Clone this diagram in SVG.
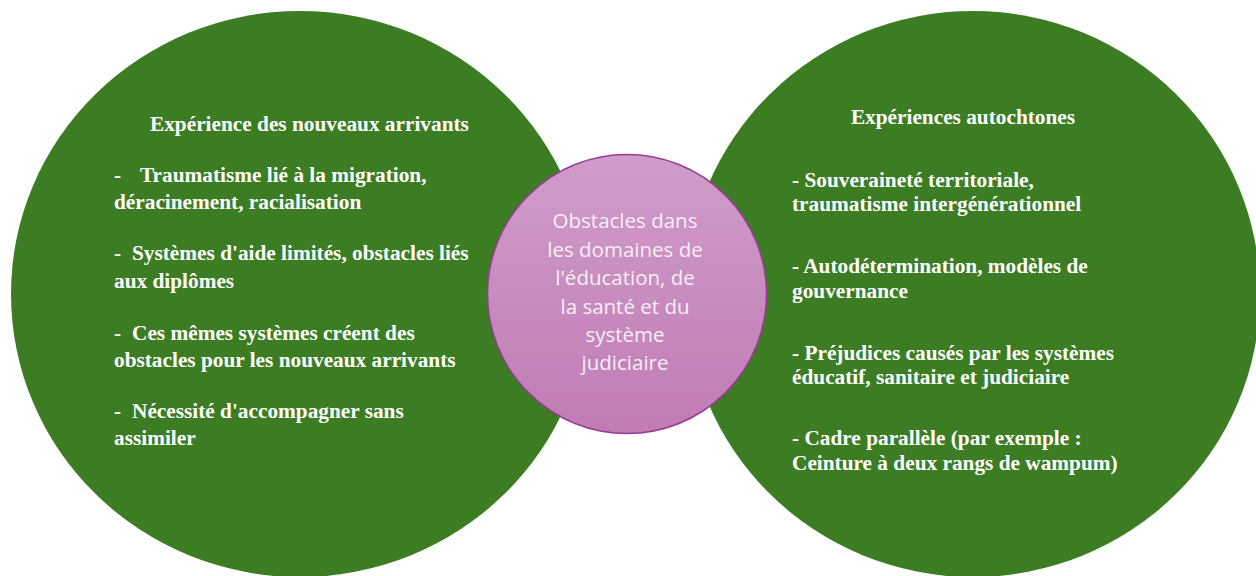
<svg xmlns="http://www.w3.org/2000/svg" width="1256" height="576" viewBox="0 0 1256 576">
<style>
.green{fill:#3c7d24}
.t{font-family:"Liberation Serif","Times New Roman",serif;font-weight:bold;font-size:21.3px;fill:#ffffff}
.c{font-family:"Open Sans","Noto Sans",sans-serif;font-size:20.5px;fill:#f8eef6;text-anchor:middle}
</style>
<defs>
<linearGradient id="pinkGrad" x1="0" y1="0" x2="0" y2="1">
<stop offset="0" stop-color="#d09cca"/>
<stop offset="1" stop-color="#c07cb3"/>
</linearGradient>
</defs>
<rect width="1256" height="576" fill="#ffffff"/>
<g id="node-left">
<ellipse class="green" cx="300" cy="294" rx="289" ry="283"/>
<text class="t" x="150" y="131">Expérience des nouveaux arrivants</text>
<text class="t" y="181.5"><tspan x="114">-</tspan><tspan x="140">Traumatisme lié à la migration,</tspan></text>
<text class="t" x="114" y="209">déracinement, racialisation</text>
<text class="t" y="260"><tspan x="114">-</tspan><tspan x="132">Systèmes d'aide limités, obstacles liés</tspan></text>
<text class="t" x="114" y="287.5">aux diplômes</text>
<text class="t" y="340"><tspan x="114">-</tspan><tspan x="132">Ces mêmes systèmes créent des</tspan></text>
<text class="t" x="114" y="367">obstacles pour les nouveaux arrivants</text>
<text class="t" y="417.5"><tspan x="114">-</tspan><tspan x="132">Nécessité d'accompagner sans</tspan></text>
<text class="t" x="114" y="445">assimiler</text>
</g>
<g id="node-right">
<ellipse class="green" cx="973" cy="294" rx="287" ry="283"/>
<text class="t" x="963" y="124" text-anchor="middle">Expériences autochtones</text>
<text class="t" x="792" y="187">- Souveraineté territoriale,</text>
<text class="t" x="792" y="211">traumatisme intergénérationnel</text>
<text class="t" x="792" y="273">- Autodétermination, modèles de</text>
<text class="t" x="792" y="297.5">gouvernance</text>
<text class="t" x="792" y="360">- Préjudices causés par les systèmes</text>
<text class="t" x="792" y="383.5">éducatif, sanitaire et judiciaire</text>
<text class="t" x="792" y="445">- Cadre parallèle (par exemple :</text>
<text class="t" x="792" y="470">Ceinture à deux rangs de wampum)</text>
</g>
<g id="node-center">
<circle cx="627" cy="294" r="139.5" fill="url(#pinkGrad)" stroke="#9a3a94" stroke-width="1.5"/>
<text class="c" x="625" y="228">Obstacles dans</text>
<text class="c" x="625" y="256.5">les domaines de</text>
<text class="c" x="625" y="285">l'éducation, de</text>
<text class="c" x="625" y="313.5">la santé et du</text>
<text class="c" x="625" y="342">système</text>
<text class="c" x="625" y="370">judiciaire</text>
</g>
<g id="connectors"></g>
</svg>
